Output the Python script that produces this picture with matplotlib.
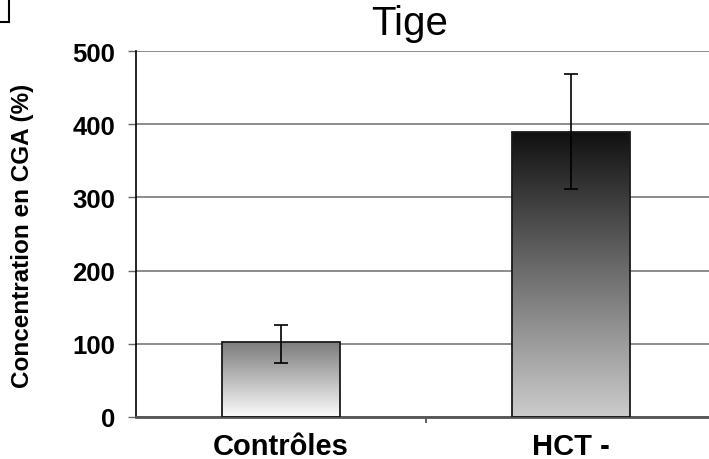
import matplotlib
matplotlib.use('Agg')
import matplotlib.pyplot as plt
import numpy as np
from matplotlib.colors import LinearSegmentedColormap
from matplotlib.lines import Line2D

# data
categories = ['Contrôles', 'HCT -']
values = [102, 390]
err_low = [74, 312]
err_high = [126, 469]
yticks = [0, 100, 200, 300, 400, 500]

# gradient ends per bar (top, bottom)
top_colors = ['#7c7c7c', '#101010']
bottom_colors = ['#fcfcfc', '#cccccc']

plt.rcParams['font.family'] = ['Liberation Sans', 'DejaVu Sans']

W, H = 709, 460
fig = plt.figure(figsize=(W / 100, H / 100), dpi=100)
# axis runs a bit past the right edge, as in the reference
ax = fig.add_axes([136 / W, 42 / H, 580 / W, 366 / H])

x = np.arange(len(categories))
bar_w = 0.405
bars = ax.bar(x, values, width=bar_w, color='none', edgecolor='#1a1a1a',
              linewidth=1.3, zorder=3)

# vertical gradient inside each bar
for b, ct, cb in zip(bars, top_colors, bottom_colors):
    cmap = LinearSegmentedColormap.from_list('g', [cb, ct])
    grad = np.linspace(0, 1, 256).reshape(-1, 1)
    x0, y0 = b.get_x(), b.get_y()
    im = ax.imshow(grad, cmap=cmap, aspect='auto', origin='lower',
                   extent=(x0, x0 + b.get_width(), y0, y0 + b.get_height()),
                   zorder=2)
    im.set_clip_path(b)

yerr = [np.array(values) - np.array(err_low), np.array(err_high) - np.array(values)]
ax.errorbar(x, values, yerr=yerr, fmt='none', ecolor='black', elinewidth=1.2,
            capsize=5, capthick=1.2, zorder=4)

ax.set_xlim(-0.5, 1.5)
ax.set_ylim(0, 500)
ax.set_yticks(yticks)
ax.set_yticklabels([str(t) for t in yticks], fontsize=18.5, fontweight='bold')
ax.set_xticks(x)
ax.set_xticklabels(categories, fontsize=21, fontweight='bold')
ax.tick_params(axis='x', length=0, pad=11)
ax.set_xticks([0.5], minor=True)
ax.tick_params(axis='x', which='minor', length=4, width=1.2, color='#444444')
ax.tick_params(axis='y', length=6, width=1, color='#666666', pad=9)

ax.yaxis.grid(True, color='#6e6e6e', linewidth=1.1, zorder=1)
ax.set_axisbelow(True)
for s in ['top', 'right']:
    ax.spines[s].set_visible(False)
ax.spines['left'].set_color('black')
ax.spines['left'].set_linewidth(1.2)
ax.spines['bottom'].set_color('#555555')
ax.spines['bottom'].set_linewidth(2)

fig.text(410 / W, 1 - 24 / H, 'Tige', fontsize=29, ha='center', va='center')
fig.text(23 / W, 1 - 236 / H, 'Concentration en CGA (%)', fontsize=17.5,
         fontweight='bold', rotation=90, ha='center', va='center')

# leftover frame corner at top-left
fig.add_artist(Line2D([9 / W, 9 / W], [1, 1 - 23 / H], color='black', lw=1.5,
                      transform=fig.transFigure))
fig.add_artist(Line2D([0, 9 / W], [1 - 23 / H, 1 - 23 / H], color='black', lw=1.5,
                      transform=fig.transFigure))

fig.savefig('out.png', dpi=100)
